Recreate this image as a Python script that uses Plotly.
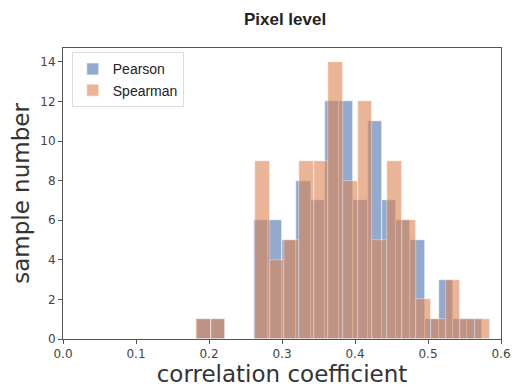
import numpy as np
import plotly.graph_objects as go

# Histogram counts (20 bins each)
pearson_counts = [1, 1, 0, 0, 6, 6, 5, 8, 7, 12, 12, 7, 11, 7, 6, 5, 1, 3, 1, 1]
spearman_counts = [1, 1, 0, 0, 9, 4, 5, 9, 9, 14, 8, 12, 5, 9, 6, 2, 1, 3, 1, 1]

# Data range of each series (histogram bins span min..max)
pearson_range = [0.1832, 0.5736]
spearman_range = [0.1823, 0.5847]

x_ticks = [0.0, 0.1, 0.2, 0.3, 0.4, 0.5, 0.6]
y_ticks = [0, 2, 4, 6, 8, 10, 12, 14]


def bins(rng, n):
    edges = np.linspace(rng[0], rng[1], n + 1)
    return (edges[:-1] + edges[1:]) / 2, edges[1] - edges[0]


pc, pw = bins(pearson_range, len(pearson_counts))
sc, sw = bins(spearman_range, len(spearman_counts))

fig = go.Figure()
fig.add_trace(go.Bar(x=pc, y=pearson_counts, width=pw, name="Pearson",
                     marker=dict(color="#4C72B0", line=dict(color="white", width=0.6)),
                     opacity=0.6))
fig.add_trace(go.Bar(x=sc, y=spearman_counts, width=sw, name="Spearman",
                     marker=dict(color="#DD8452", line=dict(color="white", width=0.6)),
                     opacity=0.6))

axis_common = dict(showline=True, mirror=True, linecolor="#555", linewidth=1,
                   ticks="outside", ticklen=4, tickcolor="#555", showgrid=False,
                   zeroline=False,
                   tickfont=dict(family="DejaVu Sans", size=12, color="#444"))

fig.update_layout(
    width=523, height=392,
    margin=dict(l=63, r=14, t=48, b=52),
    paper_bgcolor="white", plot_bgcolor="white",
    barmode="overlay", bargap=0,
    font=dict(family="Liberation Sans, Arial, sans-serif", color="#222"),
    title=dict(text="<b>Pixel level</b>", x=0.545, xanchor="center", y=0.952,
               yanchor="middle", font=dict(size=17, color="#222")),
    showlegend=True,
    legend=dict(x=0.02, y=0.985, xanchor="left", yanchor="top",
                bgcolor="rgba(255,255,255,0.8)", bordercolor="#ddd", borderwidth=1,
                font=dict(size=14, color="#222"), tracegroupgap=0),
)
fig.update_xaxes(range=[0, 0.6], tickvals=x_ticks,
                 ticktext=[f"{v:.1f}" for v in x_ticks],
                 title=dict(text="correlation coefficient",
                            font=dict(family="DejaVu Sans", size=23, color="#333"),
                            standoff=2),
                 **axis_common)
fig.update_yaxes(range=[0, 14.7], tickvals=y_ticks,
                 title=dict(text="sample number",
                            font=dict(family="DejaVu Sans", size=23, color="#333"),
                            standoff=4),
                 **axis_common)

fig.write_html("out.html")
